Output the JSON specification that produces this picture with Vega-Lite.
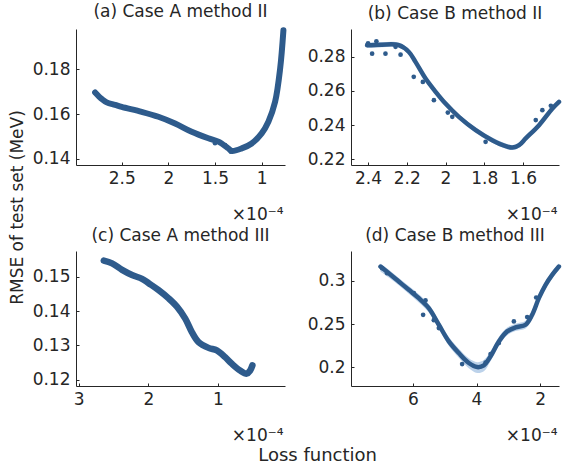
{
  "$schema": "https://vega.github.io/schema/vega-lite/v6.json",
  "padding": {"left": 8, "top": 3, "right": 0, "bottom": 0},
  "background": "white",
  "bounds": "flush",
  "columns": 2,
  "spacing": {"row": 86, "column": 66},
  "title": {"text": "Loss function", "orient": "bottom", "anchor": "middle", "fontSize": 18, "fontWeight": "normal", "color": "#262626", "font": "DejaVu Sans", "offset": 4, "dx": 33, "baseline": "top"},
  "datasets": {
    "a_line": [
      {"loss": 2.785, "rmse": 0.1696}, {"loss": 2.714, "rmse": 0.1667}, {"loss": 2.661, "rmse": 0.1652}, {"loss": 2.571, "rmse": 0.1641},
      {"loss": 2.5, "rmse": 0.1632}, {"loss": 2.286, "rmse": 0.1610}, {"loss": 2.107, "rmse": 0.1588}, {"loss": 1.928, "rmse": 0.1558},
      {"loss": 1.75, "rmse": 0.1521}, {"loss": 1.571, "rmse": 0.1492}, {"loss": 1.464, "rmse": 0.1477}, {"loss": 1.357, "rmse": 0.1447},
      {"loss": 1.321, "rmse": 0.1436}, {"loss": 1.214, "rmse": 0.1447}, {"loss": 1.107, "rmse": 0.1469}, {"loss": 1.0, "rmse": 0.1514},
      {"loss": 0.928, "rmse": 0.1566}, {"loss": 0.856, "rmse": 0.1655}, {"loss": 0.802, "rmse": 0.1803}, {"loss": 0.767, "rmse": 0.1973}
    ],
    "a_pts": [
      {"loss": 2.785, "rmse": 0.1696}, {"loss": 2.714, "rmse": 0.1669}, {"loss": 2.571, "rmse": 0.1641},
      {"loss": 1.5, "rmse": 0.1470}, {"loss": 1.392, "rmse": 0.1462}, {"loss": 1.33, "rmse": 0.1432}
    ],
    "b_line": [
      {"loss": 2.405, "rmse": 0.2868, "lo": 0.2853, "hi": 0.2883}, {"loss": 2.328, "rmse": 0.2872, "lo": 0.2857, "hi": 0.2887},
      {"loss": 2.241, "rmse": 0.2869, "lo": 0.2854, "hi": 0.2884}, {"loss": 2.189, "rmse": 0.2829, "lo": 0.2814, "hi": 0.2844},
      {"loss": 2.155, "rmse": 0.2771, "lo": 0.2756, "hi": 0.2786}, {"loss": 2.103, "rmse": 0.2673, "lo": 0.2658, "hi": 0.2688},
      {"loss": 2.051, "rmse": 0.2595, "lo": 0.2580, "hi": 0.2610}, {"loss": 2.0, "rmse": 0.2526, "lo": 0.2511, "hi": 0.2541},
      {"loss": 1.931, "rmse": 0.2448, "lo": 0.2433, "hi": 0.2463}, {"loss": 1.844, "rmse": 0.2370, "lo": 0.2355, "hi": 0.2385},
      {"loss": 1.759, "rmse": 0.2311, "lo": 0.2296, "hi": 0.2326}, {"loss": 1.689, "rmse": 0.2276, "lo": 0.2261, "hi": 0.2291},
      {"loss": 1.655, "rmse": 0.2268, "lo": 0.2253, "hi": 0.2283}, {"loss": 1.62, "rmse": 0.2282, "lo": 0.2267, "hi": 0.2297},
      {"loss": 1.586, "rmse": 0.2321, "lo": 0.2306, "hi": 0.2336}, {"loss": 1.517, "rmse": 0.2399, "lo": 0.2384, "hi": 0.2414},
      {"loss": 1.448, "rmse": 0.2497, "lo": 0.2482, "hi": 0.2512}, {"loss": 1.414, "rmse": 0.2536, "lo": 0.2521, "hi": 0.2551}
    ],
    "b_pts": [
      {"loss": 2.379, "rmse": 0.2819}, {"loss": 2.31, "rmse": 0.2819}, {"loss": 2.232, "rmse": 0.2813}, {"loss": 2.164, "rmse": 0.2683},
      {"loss": 2.117, "rmse": 0.2653}, {"loss": 2.06, "rmse": 0.2546}, {"loss": 1.988, "rmse": 0.2473}, {"loss": 1.965, "rmse": 0.2448},
      {"loss": 1.793, "rmse": 0.2301}, {"loss": 1.534, "rmse": 0.2429}, {"loss": 1.5, "rmse": 0.2487}, {"loss": 1.456, "rmse": 0.2513},
      {"loss": 2.357, "rmse": 0.2892}, {"loss": 2.258, "rmse": 0.2859}, {"loss": 2.4, "rmse": 0.2880}
    ],
    "c_line": [
      {"loss": 2.64, "rmse": 0.1547}, {"loss": 2.521, "rmse": 0.1539}, {"loss": 2.377, "rmse": 0.1520}, {"loss": 2.234, "rmse": 0.1505},
      {"loss": 2.09, "rmse": 0.1494}, {"loss": 1.994, "rmse": 0.1481}, {"loss": 1.851, "rmse": 0.1461}, {"loss": 1.707, "rmse": 0.1437},
      {"loss": 1.588, "rmse": 0.1413}, {"loss": 1.468, "rmse": 0.1378}, {"loss": 1.373, "rmse": 0.1339}, {"loss": 1.277, "rmse": 0.1310},
      {"loss": 1.133, "rmse": 0.1293}, {"loss": 1.014, "rmse": 0.1286}, {"loss": 0.894, "rmse": 0.1266}, {"loss": 0.799, "rmse": 0.1247},
      {"loss": 0.679, "rmse": 0.1227}, {"loss": 0.584, "rmse": 0.1218}, {"loss": 0.535, "rmse": 0.1227}, {"loss": 0.502, "rmse": 0.1242}
    ],
    "d_line": [
      {"loss": 7.015, "rmse": 0.3166, "lo": 0.3110, "hi": 0.3200}, {"loss": 6.754, "rmse": 0.3089, "lo": 0.3040, "hi": 0.3130},
      {"loss": 6.44, "rmse": 0.2993, "lo": 0.2950, "hi": 0.3035}, {"loss": 6.126, "rmse": 0.2897, "lo": 0.2850, "hi": 0.2940},
      {"loss": 5.811, "rmse": 0.2800, "lo": 0.2750, "hi": 0.2845}, {"loss": 5.497, "rmse": 0.2685, "lo": 0.2635, "hi": 0.2730},
      {"loss": 5.183, "rmse": 0.2493, "lo": 0.2445, "hi": 0.2540}, {"loss": 4.869, "rmse": 0.2300, "lo": 0.2250, "hi": 0.2350},
      {"loss": 4.555, "rmse": 0.2165, "lo": 0.2110, "hi": 0.2215}, {"loss": 4.241, "rmse": 0.2050, "lo": 0.1990, "hi": 0.2105},
      {"loss": 3.98, "rmse": 0.2003, "lo": 0.1935, "hi": 0.2060}, {"loss": 3.769, "rmse": 0.2023, "lo": 0.1955, "hi": 0.2085},
      {"loss": 3.559, "rmse": 0.2127, "lo": 0.2070, "hi": 0.2185}, {"loss": 3.298, "rmse": 0.2300, "lo": 0.2250, "hi": 0.2350},
      {"loss": 3.037, "rmse": 0.2416, "lo": 0.2370, "hi": 0.2460}, {"loss": 2.773, "rmse": 0.2462, "lo": 0.2420, "hi": 0.2505},
      {"loss": 2.459, "rmse": 0.2493, "lo": 0.2450, "hi": 0.2540}, {"loss": 2.252, "rmse": 0.2609, "lo": 0.2565, "hi": 0.2655},
      {"loss": 2.042, "rmse": 0.2800, "lo": 0.2755, "hi": 0.2845}, {"loss": 1.831, "rmse": 0.2955, "lo": 0.2910, "hi": 0.3000},
      {"loss": 1.624, "rmse": 0.3070, "lo": 0.3030, "hi": 0.3110}, {"loss": 1.413, "rmse": 0.3166, "lo": 0.3125, "hi": 0.3205}
    ],
    "d_pts": [
      {"loss": 6.964, "rmse": 0.3147}, {"loss": 6.807, "rmse": 0.3089}, {"loss": 5.969, "rmse": 0.2858}, {"loss": 5.601, "rmse": 0.2774},
      {"loss": 5.676, "rmse": 0.2608}, {"loss": 5.34, "rmse": 0.2546}, {"loss": 5.183, "rmse": 0.2454}, {"loss": 4.451, "rmse": 0.2038},
      {"loss": 3.559, "rmse": 0.2154}, {"loss": 3.298, "rmse": 0.2281}, {"loss": 2.827, "rmse": 0.2531}, {"loss": 2.409, "rmse": 0.2581},
      {"loss": 2.126, "rmse": 0.2808}, {"loss": 3.716, "rmse": 0.2054}
    ]
  },
  "concat": [
    {
      "width": 209, "height": 136,
      "title": {"text": "(a) Case A method II"},
      "encoding": {
        "x": {"field": "loss", "type": "quantitative", "scale": {"domain": [0.75, 2.99], "reverse": true, "nice": false, "zero": false},
              "axis": {"values": [1, 1.5, 2, 2.5], "format": "~g", "title": "×10⁻⁴", "titleX": 207, "titleY": 54, "titleAlign": "right", "titleBaseline": "alphabetic"}},
        "y": {"field": "rmse", "type": "quantitative", "scale": {"domain": [0.1373, 0.1979], "nice": false, "zero": false},
              "axis": {"values": [0.14, 0.16, 0.18], "format": "~g", "title": "RMSE of test set (MeV)", "titleX": -54, "titleY": 178, "titleAlign": "center", "titleBaseline": "alphabetic", "titleAngle": -90}}
      },
      "layer": [
        {"data": {"name": "a_line"}, "mark": {"type": "line", "color": "#2e5b8c", "strokeWidth": 6, "strokeCap": "round", "strokeJoin": "round", "interpolate": "catmull-rom"}},
        {"data": {"name": "a_pts"}, "mark": {"type": "circle", "color": "#2e5b8c", "size": 22, "opacity": 1}}
      ]
    },
    {
      "width": 208, "height": 136,
      "title": {"text": "(b) Case B method II"},
      "encoding": {
        "x": {"field": "loss", "type": "quantitative", "scale": {"domain": [1.414, 2.488], "reverse": true, "nice": false, "zero": false},
              "axis": {"values": [1.6, 1.8, 2, 2.2, 2.4], "format": "~g", "title": "×10⁻⁴", "titleX": 206, "titleY": 54, "titleAlign": "right", "titleBaseline": "alphabetic"}},
        "y": {"field": "rmse", "type": "quantitative", "scale": {"domain": [0.2165, 0.2964], "nice": false, "zero": false},
              "axis": {"values": [0.22, 0.24, 0.26, 0.28], "format": "~g", "title": null}}
      },
      "layer": [
        {"data": {"name": "b_line"}, "mark": {"type": "area", "color": "#bcd2ea", "opacity": 1, "interpolate": "catmull-rom"},
         "encoding": {"y": {"field": "lo", "type": "quantitative"}, "y2": {"field": "hi"}}},
        {"data": {"name": "b_line"}, "mark": {"type": "line", "color": "#2e5b8c", "strokeWidth": 4.5, "strokeCap": "round", "strokeJoin": "round", "interpolate": "catmull-rom"}},
        {"data": {"name": "b_pts"}, "mark": {"type": "circle", "color": "#2e5b8c", "size": 22, "opacity": 1}}
      ]
    },
    {
      "width": 209, "height": 135,
      "title": {"text": "(c) Case A method III"},
      "encoding": {
        "x": {"field": "loss", "type": "quantitative", "scale": {"domain": [0.033, 3.04], "reverse": true, "nice": false, "zero": false},
              "axis": {"values": [1, 2, 3], "format": "~g", "title": "×10⁻⁴", "titleX": 207, "titleY": 54, "titleAlign": "right", "titleBaseline": "alphabetic"}},
        "y": {"field": "rmse", "type": "quantitative", "scale": {"domain": [0.1182, 0.1575], "nice": false, "zero": false},
              "axis": {"values": [0.12, 0.13, 0.14, 0.15], "format": "~g", "title": null}}
      },
      "layer": [
        {"data": {"name": "c_line"}, "mark": {"type": "line", "color": "#2e5b8c", "strokeWidth": 6.5, "strokeCap": "round", "strokeJoin": "round", "interpolate": "catmull-rom"}}
      ]
    },
    {
      "width": 208, "height": 135,
      "title": {"text": "(d) Case B method III"},
      "encoding": {
        "x": {"field": "loss", "type": "quantitative", "scale": {"domain": [1.41, 7.94], "reverse": true, "nice": false, "zero": false},
              "axis": {"values": [2, 4, 6], "format": "~g", "title": "×10⁻⁴", "titleX": 206, "titleY": 54, "titleAlign": "right", "titleBaseline": "alphabetic"}},
        "y": {"field": "rmse", "type": "quantitative", "scale": {"domain": [0.1784, 0.3346], "nice": false, "zero": false},
              "axis": {"values": [0.2, 0.25, 0.3], "format": "~g", "title": null}}
      },
      "layer": [
        {"data": {"name": "d_line"}, "mark": {"type": "area", "color": "#bcd2ea", "opacity": 1, "interpolate": "catmull-rom"},
         "encoding": {"y": {"field": "lo", "type": "quantitative"}, "y2": {"field": "hi"}}},
        {"data": {"name": "d_line"}, "mark": {"type": "line", "color": "#2e5b8c", "strokeWidth": 4.5, "strokeCap": "round", "strokeJoin": "round", "interpolate": "catmull-rom"}},
        {"data": {"name": "d_pts"}, "mark": {"type": "circle", "color": "#2e5b8c", "size": 22, "opacity": 1}}
      ]
    }
  ],
  "config": {
    "font": "DejaVu Sans",
    "view": {"stroke": null},
    "title": {"fontSize": 17, "fontWeight": "normal", "color": "#262626", "font": "DejaVu Sans", "anchor": "middle", "baseline": "alphabetic", "offset": 6},
    "axis": {
      "grid": false, "domainColor": "#262626", "domainWidth": 1, "tickColor": "#262626", "tickSize": -3, "tickWidth": 1,
      "labelFont": "DejaVu Sans", "labelFontSize": 17, "labelColor": "#262626",
      "titleFont": "DejaVu Sans", "titleFontSize": 17, "titleFontWeight": "normal", "titleColor": "#262626"
    },
    "axisX": {"labelPadding": 8, "labelFlush": false},
    "axisY": {"labelPadding": 9, "labelFlush": false}
  }
}
